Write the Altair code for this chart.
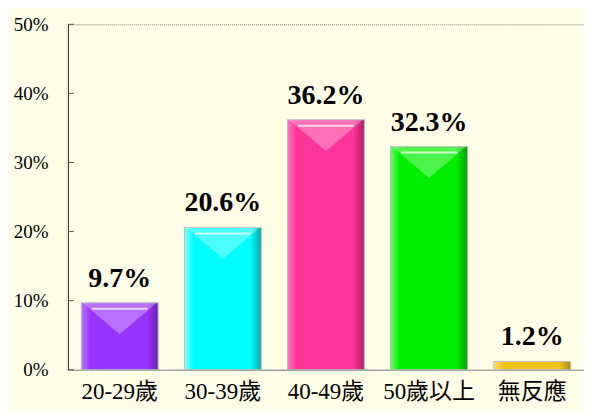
import altair as alt
import pandas as pd

categories = ["20-29歲", "30-39歲", "40-49歲", "50歲以上", "無反應"]
values = [9.7, 20.6, 36.2, 32.3, 1.2]
base_colors = ["#9933FF", "#00FFFF", "#FF3399", "#00EE00", "#F2C420"]
light_colors = ["#B877FF", "#88FFFF", "#FF77BB", "#66FF66", "#FFE070"]
dark_colors = ["#6A1FB5", "#00A8A8", "#B01E66", "#00A000", "#B08A10"]
y_ticks = [0.0, 0.1, 0.2, 0.3, 0.4, 0.5]

df = pd.DataFrame({"cat": categories, "val": [v / 100 for v in values]})
tick_df = pd.DataFrame({"t": y_ticks})

FONT = "'Liberation Serif', 'Noto Sans CJK TC', serif"

x_enc = alt.X("cat:N", sort=categories,
              scale=alt.Scale(paddingInner=0.255, paddingOuter=0.13),
              axis=alt.Axis(title=None, labelAngle=0, labelFont=FONT, labelFontSize=23,
                            labelColor="#000", labelPadding=11, ticks=False,
                            domainColor="#666", domainDash=[1, 1], domainWidth=1))
y_scale = alt.Scale(domain=[0, 0.5])
y_enc = alt.Y("val:Q", scale=y_scale,
              axis=alt.Axis(title=None, format=".0%", values=y_ticks, grid=False,
                            labelFont=FONT, labelFontSize=19, labelColor="#000",
                            labelPadding=20, ticks=False, domainColor="#333",
                            domainWidth=1))

base = alt.Chart(df)
layers = []
for c, bc, lc, dc in zip(categories, base_colors, light_colors, dark_colors):
    grad = alt.Gradient(gradient="linear", x1=0, x2=1, y1=0, y2=0,
                        stops=[alt.GradientStop(offset=0, color=lc),
                               alt.GradientStop(offset=0.12, color=bc),
                               alt.GradientStop(offset=0.85, color=bc),
                               alt.GradientStop(offset=1, color=dc)])
    layers.append(
        base.transform_filter(alt.datum.cat == c)
        .mark_bar(fill=grad, stroke="#BBBBBB", strokeWidth=1)
        .encode(x=x_enc, y=y_enc)
    )

xs = alt.X("cat:N", sort=categories)
ys = alt.Y("val:Q", scale=y_scale)

# bevel: light V at the top of the taller bars
bevel = base.transform_filter(alt.datum.val > 0.05).mark_point(
    shape="M-1,0 L1,0 L0,0.85 Z", size=5500, filled=True, color="white",
    opacity=0.3, strokeWidth=0).encode(x=xs, y=ys)
shine = base.transform_filter(alt.datum.val > 0.05).mark_tick(
    color="white", opacity=0.7, thickness=2, size=56, yOffset=6).encode(x=xs, y=ys)

labels = base.mark_text(font=FONT, fontSize=28, fontWeight="bold", color="#000",
                        baseline="alphabetic", dy=-16).encode(
    x=xs, y=ys, text=alt.Text("val:Q", format=".1%"))

yticks = alt.Chart(tick_df).mark_rule(color="#555", strokeWidth=1).encode(
    y=alt.Y("t:Q", scale=y_scale), x=alt.value(0), x2=alt.value(6))

chart = alt.layer(*layers, bevel, shine, yticks, labels).properties(
    width=517, height=346,
    background="#FFFFE8",
    padding={"left": 60, "top": 16, "right": 0, "bottom": 42},
    autosize=alt.AutoSizeParams(type="none"),
).configure_view(stroke="#777", strokeDash=[1, 1], strokeWidth=1)

chart.save("out.html", embed_options={"renderer": "svg", "actions": False})
